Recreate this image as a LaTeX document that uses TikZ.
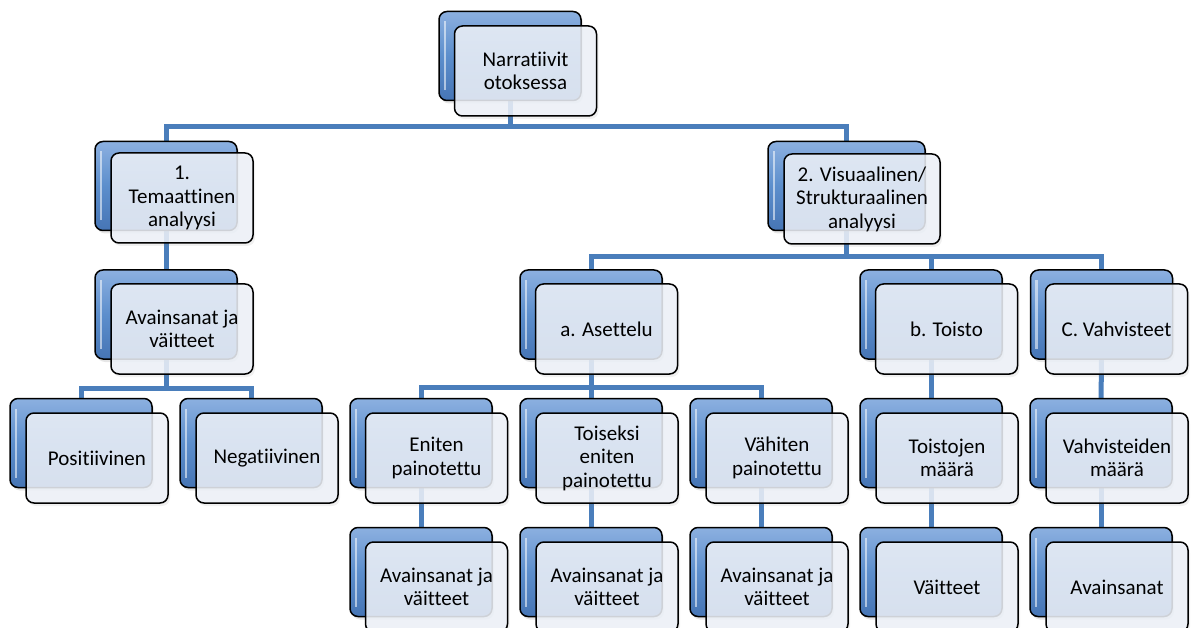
\documentclass[tikz,border=0pt]{standalone}
\usepackage{fontspec}
\setmainfont{Carlito}[Ligatures=NoCommon]
\usetikzlibrary{shadows}
\pgfdeclarelayer{background}
\pgfsetlayers{background,main}
\definecolor{connc}{RGB}{74,126,187}
\definecolor{bluetop}{RGB}{140,176,224}
\definecolor{bluemid}{RGB}{92,142,204}
\definecolor{bluebot}{RGB}{70,117,181}
\definecolor{frontfill}{RGB}{238,242,249}
\tikzset{
  backbox/.style={draw=black, line width=1.5pt, rounded corners=8pt,
    minimum width=142pt, minimum height=89pt, inner sep=0pt,
    top color=bluetop, bottom color=bluebot, middle color=bluemid,
    drop shadow={shadow xshift=2pt, shadow yshift=-3pt, opacity=0.2},
    path picture={\draw[white, opacity=0.55, line width=2.5pt]
      ([xshift=6pt,yshift=-10pt]path picture bounding box.north west) --
      ([xshift=6pt,yshift=10pt]path picture bounding box.south west);}},
  frontbox/.style={draw=black, line width=1.5pt, rounded corners=8pt,
    minimum width=142pt, minimum height=90pt, inner sep=0pt,
    fill=frontfill, fill opacity=0.86, text opacity=1, draw opacity=1,
    align=center, font=\fontsize{21}{23.5}\selectfont,
    drop shadow={shadow xshift=2pt, shadow yshift=-3pt, opacity=0.12}},
  connector/.style={draw=connc, line width=5pt}
}
\begin{document}
\begin{tikzpicture}[x=1pt, y=-1pt]
\useasboundingbox (0,0) rectangle (1197,628);
\coordinate (y0) at (0,127);
\coordinate (y1) at (0,257);
\coordinate (y2) at (0,388);
\coordinate (y3) at (0,387);
% root
\node[backbox] (rootB) at (510,56) {};
\node[frontbox] (root) at (525.5,71) {Narratiivit\\otoksessa};
% level 1
\node[backbox] (t1B) at (166,186) {};
\node[frontbox] (t1) at (182,198) {1.\\Temaattinen\\analyysi};
\node[backbox, minimum width=157pt] (t2B) at (846.5,186) {};
\node[frontbox, minimum width=156pt] (t2) at (862,199) {2. Visuaalinen/\\Strukturaalinen\\analyysi};
% level 2
\node[backbox] (av1B) at (166,314.5) {};
\node[frontbox] (av1) at (182,329) {Avainsanat ja\\väitteet};
\node[backbox] (asB) at (591,314.5) {};
\node[frontbox] (as) at (606.5,329) {a. Asettelu};
\node[backbox] (toB) at (931,314.5) {};
\node[frontbox] (to) at (946.5,329) {b. Toisto};
\node[backbox] (vhB) at (1101.5,314.5) {};
\node[frontbox] (vh) at (1116.5,329) {C. Vahvisteet};
% level 3
\node[backbox] (poB) at (81,443) {};
\node[frontbox] (po) at (97,458) {Positiivinen};
\node[backbox] (neB) at (251,443) {};
\node[frontbox] (ne) at (267,458) {Negatiivinen};
\node[backbox] (enB) at (421,443) {};
\node[frontbox] (en) at (436.5,458) {Eniten\\painotettu};
\node[backbox] (tsB) at (591,443) {};
\node[frontbox] (ts) at (607,458) {Toiseksi\\eniten\\painotettu};
\node[backbox] (vaB) at (761,443) {};
\node[frontbox] (va) at (777,458) {Vähiten\\painotettu};
\node[backbox] (tmB) at (931,443) {};
\node[frontbox] (tm) at (947,458) {Toistojen\\määrä};
\node[backbox] (vmB) at (1101,443) {};
\node[frontbox] (vm) at (1117,458) {Vahvisteiden\\määrä};
% level 4
\node[backbox] (k1B) at (421,572) {};
\node[frontbox] (k1) at (436.5,587) {Avainsanat ja\\väitteet};
\node[backbox] (k2B) at (591,572) {};
\node[frontbox] (k2) at (607,587) {Avainsanat ja\\väitteet};
\node[backbox] (k3B) at (761,572) {};
\node[frontbox] (k3) at (777,587) {Avainsanat ja\\väitteet};
\node[backbox] (k4B) at (931,572) {};
\node[frontbox] (k4) at (947,587) {Väitteet};
\node[backbox] (k5B) at (1101,572) {};
\node[frontbox] (k5) at (1117,587) {Avainsanat};
% connectors
\begin{pgfonlayer}{background}
\draw[connector] (t1B.center) |- (t2B.center |- y0) -- (t2B.center);
\draw[connector] (rootB.center) -- (rootB.center |- y0);
\draw[connector] (t1B.center) -- (av1B.center);
\draw[connector] (asB.center) |- (vhB.center |- y1) -- (vhB.center);
\draw[connector] (t2B.center) -- (t2B.center |- y1);
\draw[connector] (toB.center) -- (toB.center |- y1);
\draw[connector] (poB.center) |- (neB.center |- y2) -- (neB.center);
\draw[connector] (av1B.center) -- (av1B.center |- y2);
\draw[connector] (enB.center) |- (vaB.center |- y3) -- (vaB.center);
\draw[connector] (asB.center) -- (tsB.center);
\draw[connector] (toB.center) -- (tmB.center);
\draw[connector] (vhB.center) -- (vmB.center);
\draw[connector] (enB.center) -- (k1B.center);
\draw[connector] (tsB.center) -- (k2B.center);
\draw[connector] (vaB.center) -- (k3B.center);
\draw[connector] (tmB.center) -- (k4B.center);
\draw[connector] (vmB.center) -- (k5B.center);
\end{pgfonlayer}
\end{tikzpicture}
\end{document}
